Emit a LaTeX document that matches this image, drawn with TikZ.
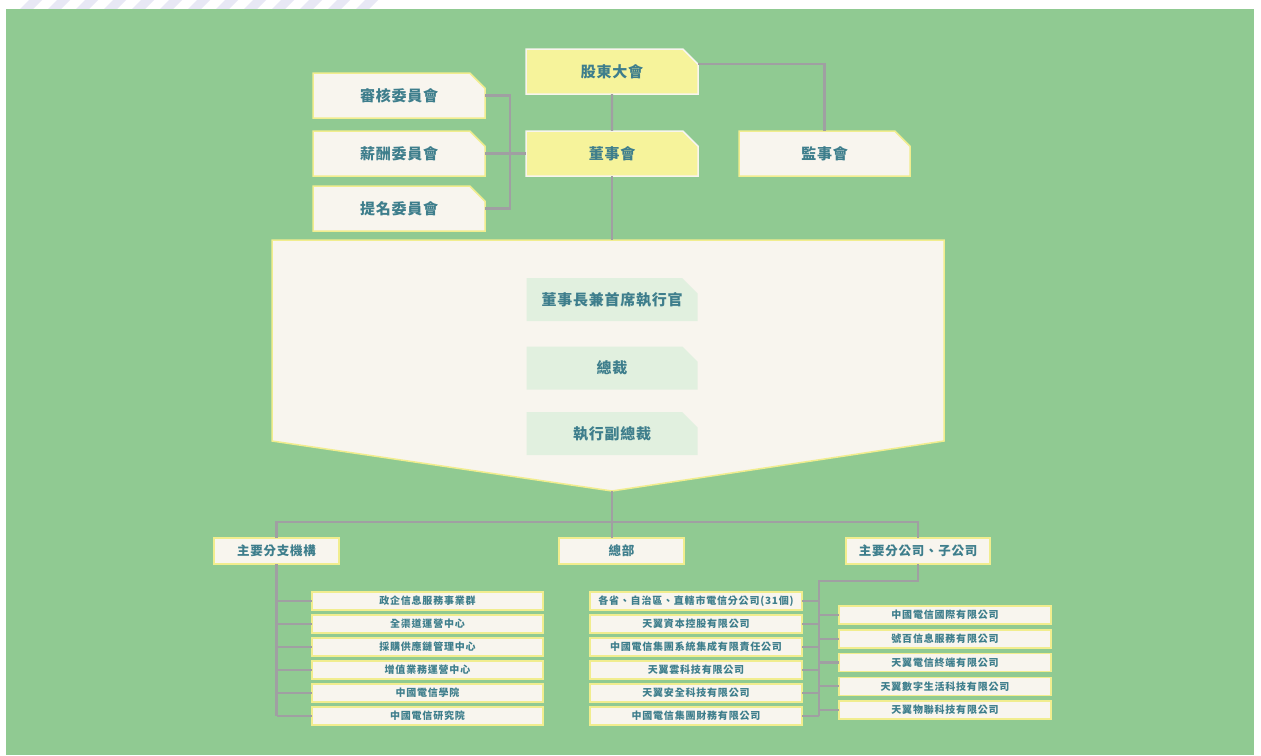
\documentclass[tikz,border=0pt]{standalone}
\usepackage{fontspec}
\setmainfont{Noto Sans CJK TC}
\usetikzlibrary{shapes.misc}
\definecolor{bggreen}{HTML}{90CA92}
\definecolor{boxyellow}{HTML}{F6F39B}
\definecolor{boxcream}{HTML}{F8F5EE}
\definecolor{edgeyellow}{HTML}{F1ED8E}
\definecolor{innergreen}{HTML}{E1F0DF}
\definecolor{linegray}{HTML}{A09FA2}
\definecolor{labelteal}{HTML}{3E7E8C}
\definecolor{stripe}{HTML}{E8E8F5}
\begin{document}
\begin{tikzpicture}[x=1pt,y=-1pt,
	every node/.style={text=labelteal,inner sep=0pt,outer sep=0pt},
	cut/.style={chamfered rectangle,chamfered rectangle corners=north east,
		chamfered rectangle xsep=8pt,chamfered rectangle ysep=8pt},
	bigfont/.style={font=\fontsize{15}{17}\selectfont\bfseries\addfontfeatures{LetterSpace=5}},
	headbox/.style={cut,bigfont,fill=boxyellow,draw=boxcream,line width=1.5pt,
		minimum width=172pt,minimum height=45pt},
	sidebox/.style={headbox,fill=boxcream,draw=edgeyellow},
	execbox/.style={cut,bigfont,fill=innergreen,minimum width=171pt,minimum height=43pt},
	groupbox/.style={rectangle,fill=boxcream,draw=edgeyellow,line width=1.5pt,
		minimum height=26pt,font=\fontsize{12.5}{14}\selectfont\bfseries\addfontfeatures{LetterSpace=6}},
	unitbox/.style={rectangle,fill=boxcream,draw=edgeyellow,line width=1.5pt,
		minimum width=212pt,minimum height=18pt,font=\fontsize{10}{11}\selectfont\bfseries\addfontfeatures{LetterSpace=8}},
	link/.style={draw=linegray,line width=2.2pt}]
\useasboundingbox (0,0) rectangle (1261,755);
\fill[white] (0,0) rectangle (1261,755);
\begin{scope}
\clip (0,0) rectangle (1261,9);
\foreach \i in {0,...,12}
	\fill[stripe] (20+28*\i,9) -- ++(13,0) -- ++(9,-9) -- ++(-13,0) -- cycle;
\end{scope}
\fill[bggreen] (6,9) rectangle (1254,755);

\node[headbox] (meeting) at (612,71.5) {股東大會};
\node[headbox] (board) at (612,153.5) {董事會};
\node[sidebox,minimum width=171pt] (supervisors) at (824.5,153.5) {監事會};
\node[sidebox] (audit) at (399,95.5) {審核委員會};
\node[sidebox] (pay) at (399,153.5) {薪酬委員會};
\node[sidebox] (nominate) at (399,208.5) {提名委員會};

\draw[fill=boxcream,draw=edgeyellow,line width=1.5pt]
	(272,240) coordinate (mgmttop) -- (944,240) -- (944,441) -- (612,491) coordinate (mgmttip) -- (272,441) -- cycle;
\path (612,240) coordinate (mgmtin);
\node[execbox] (chair) at (612,299.5) {董事長兼首席執行官};
\node[execbox] (president) at (612,368) {總裁};
\node[execbox] (evp) at (612,433.5) {執行副總裁};

\node[groupbox,minimum width=125pt] (branch) at (276.5,551) {主要分支機構};
\node[groupbox,minimum width=125pt] (hq) at (621.5,551) {總部};
\node[groupbox,minimum width=144pt] (subs) at (918,551) {主要分公司、子公司};

\foreach \t [count=\i] in {政企信息服務事業群,全渠道運營中心,採購供應鏈管理中心,增值業務運營中心,中國電信學院,中國電信研究院}
	\node[unitbox,minimum width=231pt] (b\i) at (427.5,578+23*\i) {\t};
\foreach \t [count=\i] in {各省、自治區、直轄市電信分公司(31個),天翼資本控股有限公司,中國電信集團系統集成有限責任公司,天翼雲科技有限公司,天翼安全科技有限公司,中國電信集團財務有限公司}
	\node[unitbox] (m\i) at (696,578+23*\i) {\t};
\foreach \t [count=\i] in {中國電信國際有限公司,號百信息服務有限公司,天翼電信終端有限公司,天翼數字生活科技有限公司,天翼物聯科技有限公司}
	\node[unitbox] (s\i) at (945,591.25+23.75*\i) {\t};

\draw[link] (meeting.east) ++(0,-7.5) -| (supervisors.north);
\draw[link] (meeting) -- (board);
\draw[link] (board.south) -- (mgmtin);
\draw[link] (audit.east) -- ++(25,0) |- (nominate.east);
\draw[link] (pay.east) -- (board.west);

\coordinate (bus) at (612,522);
\draw[link] (mgmttip) -- (mgmttip |- hq.north);
\draw[link] (branch.north) -- (branch.north |- bus) -- (subs.north |- bus) -- (subs.north);
\draw[link] (branch.south) -- (branch.south |- b6.west);
\foreach \i in {1,...,6}
	\draw[link] (branch.south |- b\i.west) -- (b\i.west);
\coordinate (rj) at (819,581);
\draw[link] (subs.south) |- (rj) -- (rj |- m6.east);
\foreach \i in {1,...,6}
	\draw[link] (rj |- m\i.east) -- (m\i.east);
\foreach \i in {1,...,5}
	\draw[link] (rj |- s\i.west) -- (s\i.west);
\end{tikzpicture}
\end{document}
